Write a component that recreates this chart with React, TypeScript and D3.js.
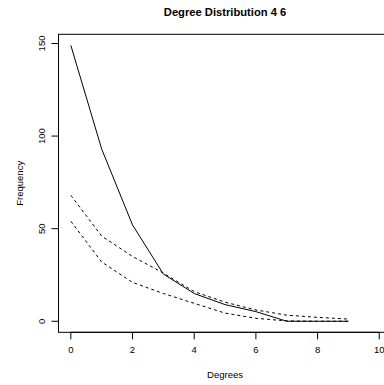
import React from "react";
import * as d3 from "d3";

const degrees = [0, 1, 2, 3, 4, 5, 6, 7, 8, 9];
const observed = [149, 93, 52, 25.5, 15, 9, 5.2, 0, 0, 0];
const upperBound = [68, 46, 35, 26, 16, 10.3, 6.1, 3.3, 2.1, 1.2];
const lowerBound = [54, 32, 21, 15, 9.7, 4.4, 1.6, 0.2, 0, 0];
const xTicks = [0, 2, 4, 6, 8, 10];
const yTicks = [0, 50, 100, 150];
const title = "Degree Distribution 4 6";
const xLabel = "Degrees";
const yLabel = "Frequency";

const W = 384;
const H = 385;
const left = 58.5;
const right = 391.6;
const top = 34.3;
const bottom = 332.3;
const FONT = "'Liberation Sans', Arial, Helvetica, sans-serif";

export default function App() {
  const xMin = 0, xMax = 10;
  const yMin = 0, yMax = 149;
  const xPad = (xMax - xMin) * 0.04;
  const yPad = (yMax - yMin) * 0.04;
  const x = d3.scaleLinear().domain([xMin - xPad, xMax + xPad]).range([left, right]);
  const y = d3.scaleLinear().domain([yMin - yPad, yMax + yPad]).range([bottom, top]);

  const line = d3
    .line<number>()
    .x((_, i) => x(degrees[i]))
    .y((d) => y(d));

  const tickLen = 7;

  return (
    <div style={{ position: "absolute", left: 0, top: 0 }}>
      <svg width={W} height={H} style={{ display: "block", background: "#fff" }}>
        <rect x={0} y={0} width={W} height={H} fill="#fff" />
        <text
          x={(left + right) / 2}
          y={16}
          textAnchor="middle"
          fontFamily={FONT}
          fontWeight="bold"
          fontSize={11.2}
          fill="#000"
        >
          {title}
        </text>
        {/* box */}
        <rect
          x={left}
          y={top}
          width={right - left}
          height={bottom - top}
          fill="none"
          stroke="#000"
          strokeWidth={1}
        />
        {/* lines */}
        <path d={line(observed) || ""} fill="none" stroke="#000" strokeWidth={1} />
        <path
          d={line(upperBound) || ""}
          fill="none"
          stroke="#000"
          strokeWidth={1}
          strokeDasharray="3,3"
        />
        <path
          d={line(lowerBound) || ""}
          fill="none"
          stroke="#000"
          strokeWidth={1}
          strokeDasharray="3,3"
        />
        {/* x axis */}
        <line
          x1={x(xTicks[0])}
          x2={x(xTicks[xTicks.length - 1])}
          y1={bottom}
          y2={bottom}
          stroke="#000"
        />
        {xTicks.map((t) => (
          <g key={"xt" + t}>
            <line x1={x(t)} x2={x(t)} y1={bottom} y2={bottom + tickLen} stroke="#000" />
            <text
              x={x(t)}
              y={352.5}
              textAnchor="middle"
              fontFamily={FONT}
              fontSize={9.5}
              fill="#000"
            >
              {t}
            </text>
          </g>
        ))}
        <text
          x={(left + right) / 2}
          y={377.5}
          textAnchor="middle"
          fontFamily={FONT}
          fontSize={9.5}
          fill="#000"
        >
          {xLabel}
        </text>
        {/* y axis */}
        <line
          x1={left}
          x2={left}
          y1={y(yTicks[0])}
          y2={y(yTicks[yTicks.length - 1])}
          stroke="#000"
        />
        {yTicks.map((t) => (
          <g key={"yt" + t}>
            <line x1={left - tickLen} x2={left} y1={y(t)} y2={y(t)} stroke="#000" />
            <text
              transform={`translate(${45},${y(t)}) rotate(-90)`}
              textAnchor="middle"
              fontFamily={FONT}
              fontSize={9.5}
              fill="#000"
            >
              {t}
            </text>
          </g>
        ))}
        <text
          transform={`translate(${22.5},${(top + bottom) / 2}) rotate(-90)`}
          textAnchor="middle"
          fontFamily={FONT}
          fontSize={9.5}
          fill="#000"
        >
          {yLabel}
        </text>
      </svg>
    </div>
  );
}
